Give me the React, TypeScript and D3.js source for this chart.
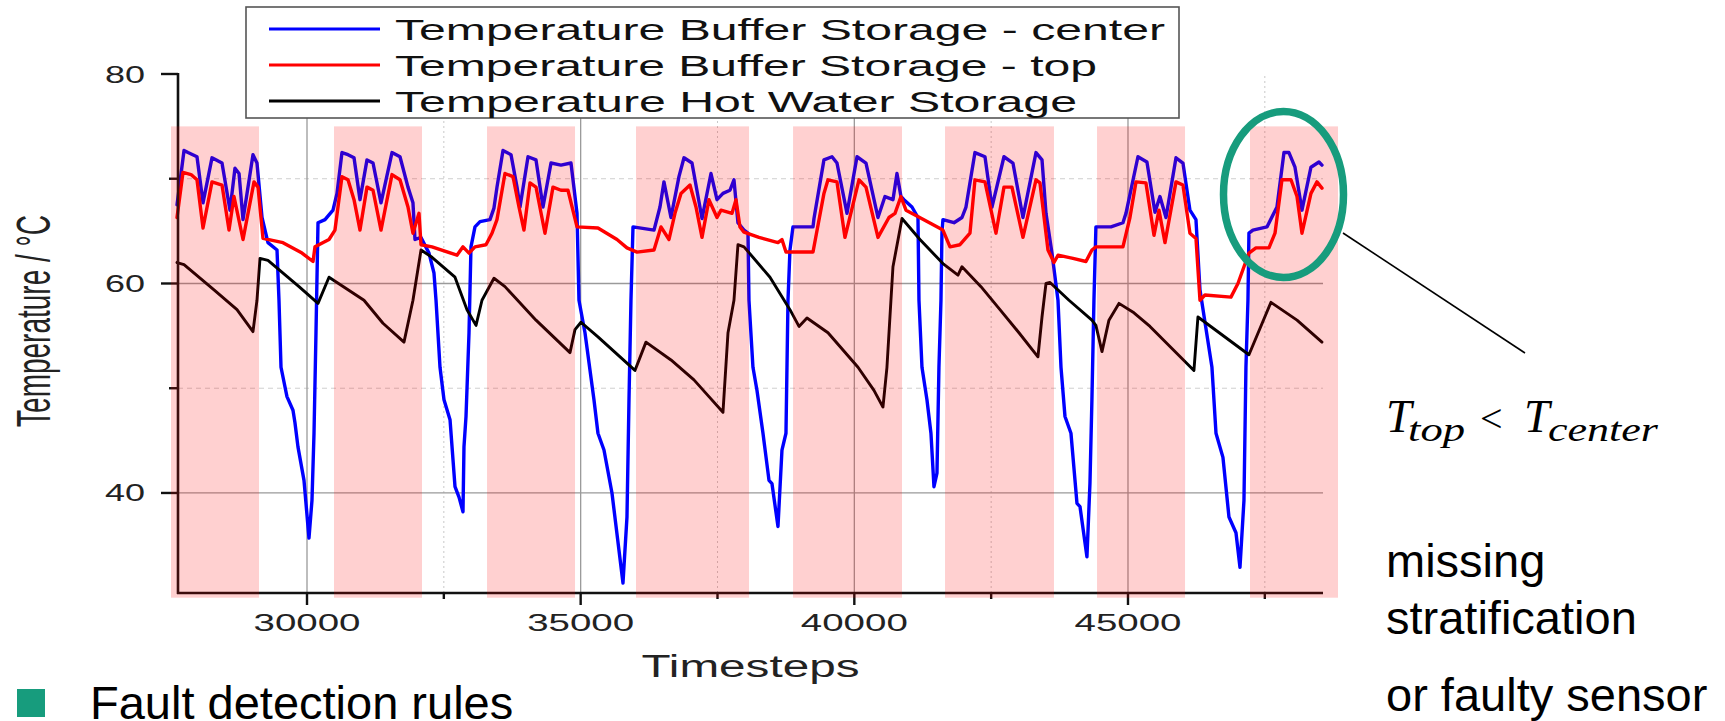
import React from "react";
import * as d3 from "d3";

// ---------- data ----------
const seriesNames = [
  "Temperature Buffer Storage - center",
  "Temperature Buffer Storage - top",
  "Temperature Hot Water Storage",
];
const seriesColors = ["#0000ff", "#ff0000", "#000000"];

const centerTemp: [number, number][] = [
  [27625,67.5],[27753,72.7],[27826,72.5],[27990,72.1],[28100,67.7],[28264,72.0],[28447,71.5],[28593,67.0],[28684,71.0],[28758,70.5],[28831,66.1],[29013,72.3],[29086,71.5],[29178,66.3],[29287,63.9],[29452,63.2],[29488,58.4],[29525,52.0],[29634,49.2],[29744,47.9],[29780,46.7],[29835,44.4],[29945,41.2],[30036,35.7],[30091,39.3],[30128,45.7],[30164,55.3],[30201,65.8],[30329,66.1],[30475,67.0],[30548,68.6],[30639,72.5],[30749,72.3],[30859,72.0],[30968,68.0],[31096,71.8],[31206,71.5],[31352,67.7],[31553,72.5],[31699,72.1],[31845,69.2],[31936,67.7],[31973,64.2],[32083,64.4],[32229,62.9],[32320,61.0],[32357,58.4],[32430,52.0],[32503,48.9],[32613,47.0],[32704,40.6],[32777,39.6],[32850,38.2],[32868,44.4],[32905,47.3],[32960,55.3],[32996,63.5],[33069,65.4],[33161,65.9],[33343,66.1],[33416,67.2],[33471,69.2],[33581,72.7],[33727,72.3],[33837,69.2],[33892,67.3],[34038,72.1],[34184,71.8],[34312,67.3],[34458,71.5],[34640,71.3],[34823,71.5],[34933,66.7],[34969,58.4],[35079,55.3],[35243,48.9],[35316,45.7],[35426,44.1],[35572,40.0],[35773,31.4],[35846,37.7],[35883,48.9],[35919,58.4],[35956,65.4],[36340,65.1],[36449,67.3],[36522,69.7],[36650,66.3],[36796,70.2],[36888,72.0],[37034,71.5],[37217,66.2],[37381,70.5],[37491,68.0],[37600,68.6],[37728,68.9],[37801,69.9],[37874,65.8],[37984,65.1],[38057,64.8],[38075,58.4],[38148,52.0],[38221,49.8],[38331,45.7],[38441,41.2],[38495,40.9],[38605,36.8],[38678,44.1],[38751,45.7],[38788,58.4],[38824,63.2],[38879,65.4],[39245,65.4],[39263,66.2],[39445,71.8],[39592,72.1],[39683,71.5],[39866,66.7],[40049,72.1],[40213,71.5],[40432,66.3],[40560,68.3],[40706,68.0],[40779,70.5],[40852,68.3],[40907,68.0],[41053,67.3],[41163,66.3],[41181,58.4],[41236,52.0],[41327,48.9],[41400,45.7],[41455,40.6],[41510,41.9],[41546,52.0],[41583,58.4],[41601,64.8],[41619,66.1],[41821,65.8],[41967,66.3],[42040,67.3],[42204,72.5],[42387,72.1],[42515,67.3],[42734,72.1],[42898,71.5],[43081,66.3],[43319,72.5],[43429,71.8],[43502,66.7],[43611,62.9],[43721,58.4],[43776,52.0],[43849,47.3],[43958,45.7],[44068,39.0],[44123,38.7],[44250,33.9],[44305,40.9],[44341,48.9],[44378,58.4],[44414,65.4],[44689,65.4],[44908,65.8],[44963,66.7],[45182,72.1],[45346,71.6],[45493,66.8],[45584,68.3],[45694,66.3],[45877,72.0],[46004,71.5],[46132,67.0],[46242,66.1],[46315,59.4],[46534,52.0],[46608,45.7],[46735,43.4],[46845,37.7],[46973,36.2],[47046,32.9],[47119,39.3],[47155,52.0],[47192,58.4],[47210,64.8],[47283,65.1],[47539,65.4],[47722,67.3],[47850,72.5],[47941,72.5],[48051,71.1],[48179,67.0],[48343,71.1],[48489,71.6],[48544,71.3],
];

const topTemp: [number, number][] = [
  [27625,66.3],[27734,70.6],[27881,70.4],[27990,69.9],[28100,65.3],[28264,69.7],[28447,69.4],[28575,65.1],[28666,68.3],[28831,64.2],[29032,69.7],[29105,69.2],[29196,64.3],[29561,63.9],[29909,62.9],[30110,62.1],[30146,63.5],[30402,64.2],[30511,65.1],[30639,70.2],[30749,69.9],[30859,68.0],[30968,65.1],[31096,69.2],[31206,68.9],[31352,65.1],[31553,70.4],[31699,69.9],[31845,67.3],[31936,64.8],[32046,66.7],[32083,63.7],[32284,63.5],[32740,62.7],[32850,63.5],[32960,62.9],[33069,63.5],[33270,63.7],[33380,64.8],[33471,66.1],[33617,70.5],[33764,70.2],[33873,67.3],[33964,65.1],[34074,69.6],[34184,69.2],[34348,64.8],[34494,69.2],[34640,68.9],[34768,68.9],[34933,65.4],[35316,65.3],[35664,64.2],[35846,63.4],[36029,63.0],[36340,63.2],[36467,65.4],[36614,64.2],[36723,66.7],[36833,68.6],[36997,69.4],[37107,67.3],[37217,64.4],[37344,68.0],[37491,66.3],[37564,67.0],[37765,66.7],[37838,68.0],[37911,65.4],[37984,64.9],[38258,64.4],[38605,63.9],[38678,64.2],[38751,63.0],[39245,63.0],[39445,68.6],[39519,69.9],[39683,69.7],[39829,64.4],[40085,69.9],[40213,69.2],[40432,64.4],[40633,66.3],[40743,66.7],[40852,68.3],[40944,67.0],[41126,66.5],[41619,65.1],[41748,63.5],[41930,63.7],[42113,64.8],[42204,69.9],[42387,69.7],[42588,64.8],[42734,69.2],[42880,69.2],[43081,64.4],[43319,69.9],[43392,69.6],[43538,63.2],[43648,62.0],[43721,62.7],[43995,62.4],[44232,62.1],[44341,63.2],[44414,63.5],[44908,63.5],[45036,66.3],[45146,69.7],[45328,69.6],[45475,64.6],[45566,67.0],[45676,63.9],[45877,69.7],[46004,69.4],[46132,64.8],[46242,64.3],[46315,58.4],[46406,58.9],[46881,58.7],[47009,60.0],[47119,61.6],[47210,62.9],[47338,63.4],[47576,63.4],[47686,64.8],[47813,69.9],[47978,69.9],[48088,68.3],[48179,64.8],[48343,68.6],[48453,69.7],[48544,69.1],
];

const hotWaterTemp: [number, number][] = [
  [27625,62.0],[27753,61.8],[28301,59.4],[28721,57.5],[29013,55.4],[29086,58.4],[29141,62.4],[29287,62.2],[29854,59.7],[30201,58.1],[30402,60.6],[30548,60.1],[31041,58.4],[31388,56.2],[31772,54.4],[31936,58.4],[32083,63.2],[32284,62.5],[32704,60.6],[32923,57.5],[33088,56.0],[33197,58.4],[33416,60.5],[33617,59.7],[34184,56.5],[34805,53.4],[34896,55.6],[35006,56.3],[35316,54.9],[35992,51.7],[36193,54.4],[36650,52.7],[37070,50.8],[37344,49.2],[37600,47.7],[37692,55.3],[37801,58.4],[37874,63.7],[37984,63.5],[38459,60.6],[38824,57.5],[38989,55.9],[39135,56.7],[39519,55.3],[40067,52.0],[40359,49.8],[40523,48.2],[40596,52.0],[40669,58.4],[40706,61.6],[40871,66.2],[41199,64.2],[41619,61.9],[41894,60.8],[41967,61.6],[42314,59.7],[42661,57.5],[43008,55.3],[43355,53.0],[43429,56.8],[43465,58.4],[43502,60.0],[43575,60.1],[43922,58.4],[44341,56.5],[44414,56.0],[44525,53.5],[44652,56.5],[44835,58.1],[45109,57.2],[45402,55.9],[46205,51.7],[46278,56.8],[47210,53.2],[47612,58.2],[48088,56.5],[48544,54.4],
];

// highlighted periods (timesteps)
const bandStarts = [27515, 30493, 33289, 36011, 38880, 41657, 44434, 47229];
const bandEnds = [29123, 32101, 34897, 38076, 40871, 43648, 46042, 48837];
const bandLow = 30.0;
const bandHigh = 75.0;

const xMajorTicks = [30000, 35000, 40000, 45000];
const xMinorTicks = [32500, 37500, 42500, 47500];
const yMajorTicks = [40, 60, 80];
const yMinorTicks = [50, 70];

const xTitle = "Timesteps";
const yTitle = "Temperature / °C";
const bulletText = "Fault detection rules";
const noteLines = ["missing", "stratification", "or faulty sensor"];

// ---------- layout ----------
const W = 1725;
const H = 721;
const FONT = "'Liberation Sans', Arial, Helvetica, sans-serif";
const GREEN = "#179c7d";

export default function App() {
  const x = d3.scaleLinear().domain([27643, 48563]).range([178, 1323]);
  const y = d3.scaleLinear().domain([30.45, 80]).range([593, 74]);
  const [x0, x1] = x.range();
  const [yb, yt] = y.range();

  const line = d3
    .line<[number, number]>()
    .x((d) => x(d[0]))
    .y((d) => y(d[1]));

  const series = [centerTemp, topTemp, hotWaterTemp];
  const widths = [3.4, 3.4, 2.9];

  return (
    <svg
      width={W}
      height={H}
      viewBox={`0 0 ${W} ${H}`}
      style={{ position: "absolute", left: 0, top: 0, background: "#fff" }}
      fontFamily={FONT}
    >
      <rect x={0} y={0} width={W} height={H} fill="#fff" />

      {/* minor grid */}
      {xMinorTicks.map((t) => (
        <line key={"xm" + t} x1={x(t)} x2={x(t)} y1={yb} y2={yt} stroke="#c8c8c8" strokeWidth={1} strokeDasharray="2,3" />
      ))}
      {yMinorTicks.map((t) => (
        <line key={"ym" + t} x1={x0} x2={x1} y1={y(t)} y2={y(t)} stroke="#cfcfcf" strokeWidth={1} strokeDasharray="5,4" />
      ))}
      {/* major grid */}
      {xMajorTicks.map((t) => (
        <line key={"xg" + t} x1={x(t)} x2={x(t)} y1={yb} y2={yt} stroke="#9a9a9a" strokeWidth={1.3} />
      ))}
      {yMajorTicks.filter((t) => t < 80).map((t) => (
        <line key={"yg" + t} x1={x0} x2={x1} y1={y(t)} y2={y(t)} stroke="#9a9a9a" strokeWidth={1.3} />
      ))}

      {/* series */}
      {series.map((s, i) => (
        <path key={"s" + i} d={line(s) || ""} fill="none" stroke={seriesColors[i]} strokeWidth={widths[i]} strokeLinejoin="round" strokeLinecap="round" />
      ))}

      {/* axes */}
      <line x1={x0} x2={x0} y1={yt - 1} y2={yb + 1} stroke="#111" strokeWidth={2.6} />
      <line x1={x0 - 1} x2={x1} y1={yb} y2={yb} stroke="#111" strokeWidth={2.6} />
      {yMajorTicks.map((t) => (
        <line key={"yt" + t} x1={x0 - 17} x2={x0} y1={y(t)} y2={y(t)} stroke="#111" strokeWidth={2.4} />
      ))}
      {yMinorTicks.map((t) => (
        <line key={"ytm" + t} x1={x0 - 9} x2={x0} y1={y(t)} y2={y(t)} stroke="#111" strokeWidth={2.4} />
      ))}
      {xMajorTicks.map((t) => (
        <line key={"xt" + t} x1={x(t)} x2={x(t)} y1={yb} y2={yb + 12} stroke="#111" strokeWidth={2.4} />
      ))}
      {xMinorTicks.map((t) => (
        <line key={"xtm" + t} x1={x(t)} x2={x(t)} y1={yb} y2={yb + 6} stroke="#111" strokeWidth={2.4} />
      ))}

      {/* highlighted bands (translucent overlay) */}
      {bandStarts.map((b, i) => (
        <rect
          key={"b" + i}
          x={x(b)}
          y={y(bandHigh)}
          width={x(bandEnds[i]) - x(b)}
          height={y(bandLow) - y(bandHigh)}
          fill="#ff0000"
          fillOpacity={0.185}
        />
      ))}

      {/* tick labels */}
      {yMajorTicks.map((t) => (
        <text key={"yl" + t} x={145} y={y(t) + 8.5} fontSize={23.5} textAnchor="end" fill="#222" textLength={40} lengthAdjust="spacingAndGlyphs">
          {t}
        </text>
      ))}
      {xMajorTicks.map((t) => (
        <text key={"xl" + t} x={x(t)} y={631} fontSize={23.5} textAnchor="middle" fill="#222" textLength={107} lengthAdjust="spacingAndGlyphs">
          {t}
        </text>
      ))}
      <text x={(x0 + x1) / 2} y={677} fontSize={31} textAnchor="middle" fill="#222" textLength={218} lengthAdjust="spacingAndGlyphs">
        {xTitle}
      </text>
      <text transform="translate(50,321) scale(1.7,1) rotate(-90)" fontSize={28} textAnchor="middle" fill="#222">
        {yTitle}
      </text>

      {/* legend */}
      <rect x={246} y={7} width={933} height={111} fill="#fff" stroke="#555" strokeWidth={1.6} />
      {seriesNames.map((n, i) => {
        const ly = 29 + i * 36;
        const lens = [770, 702, 682];
        return (
          <g key={"lg" + i}>
            <line x1={269} x2={380} y1={ly} y2={ly} stroke={seriesColors[i]} strokeWidth={3} />
            <text x={395} y={ly + 11} fontSize={30} fill="#111" textLength={lens[i]} lengthAdjust="spacingAndGlyphs">
              {n}
            </text>
          </g>
        );
      })}

      {/* annotation */}
      <ellipse cx={1283.5} cy={194.5} rx={60} ry={83} fill="none" stroke={GREEN} strokeWidth={7.5} />
      <line x1={1343} y1={233} x2={1525} y2={353} stroke="#000" strokeWidth={1.6} />

      <g fontFamily="'Liberation Serif', 'DejaVu Serif', serif" fontStyle="italic" fill="#000">
        <text x={1386} y={432} fontSize={46}>T</text>
        <text x={1408} y={441} fontSize={34} textLength={57} lengthAdjust="spacingAndGlyphs">top</text>
        <text x={1524} y={432} fontSize={46}>T</text>
        <text x={1548} y={441} fontSize={34} textLength={110} lengthAdjust="spacingAndGlyphs">center</text>
      </g>
      <text x={1480} y={432} fontSize={40} fontFamily="'Liberation Serif', serif" fill="#000">&lt;</text>

      {noteLines.map((t, i) => (
        <text key={"n" + i} x={1386} y={[577, 634, 711][i]} fontSize={47} fill="#000">
          {t}
        </text>
      ))}

      <rect x={17} y={689} width={28} height={28} fill={GREEN} />
      <text x={90} y={719} fontSize={47} fill="#000">
        {bulletText}
      </text>
    </svg>
  );
}
